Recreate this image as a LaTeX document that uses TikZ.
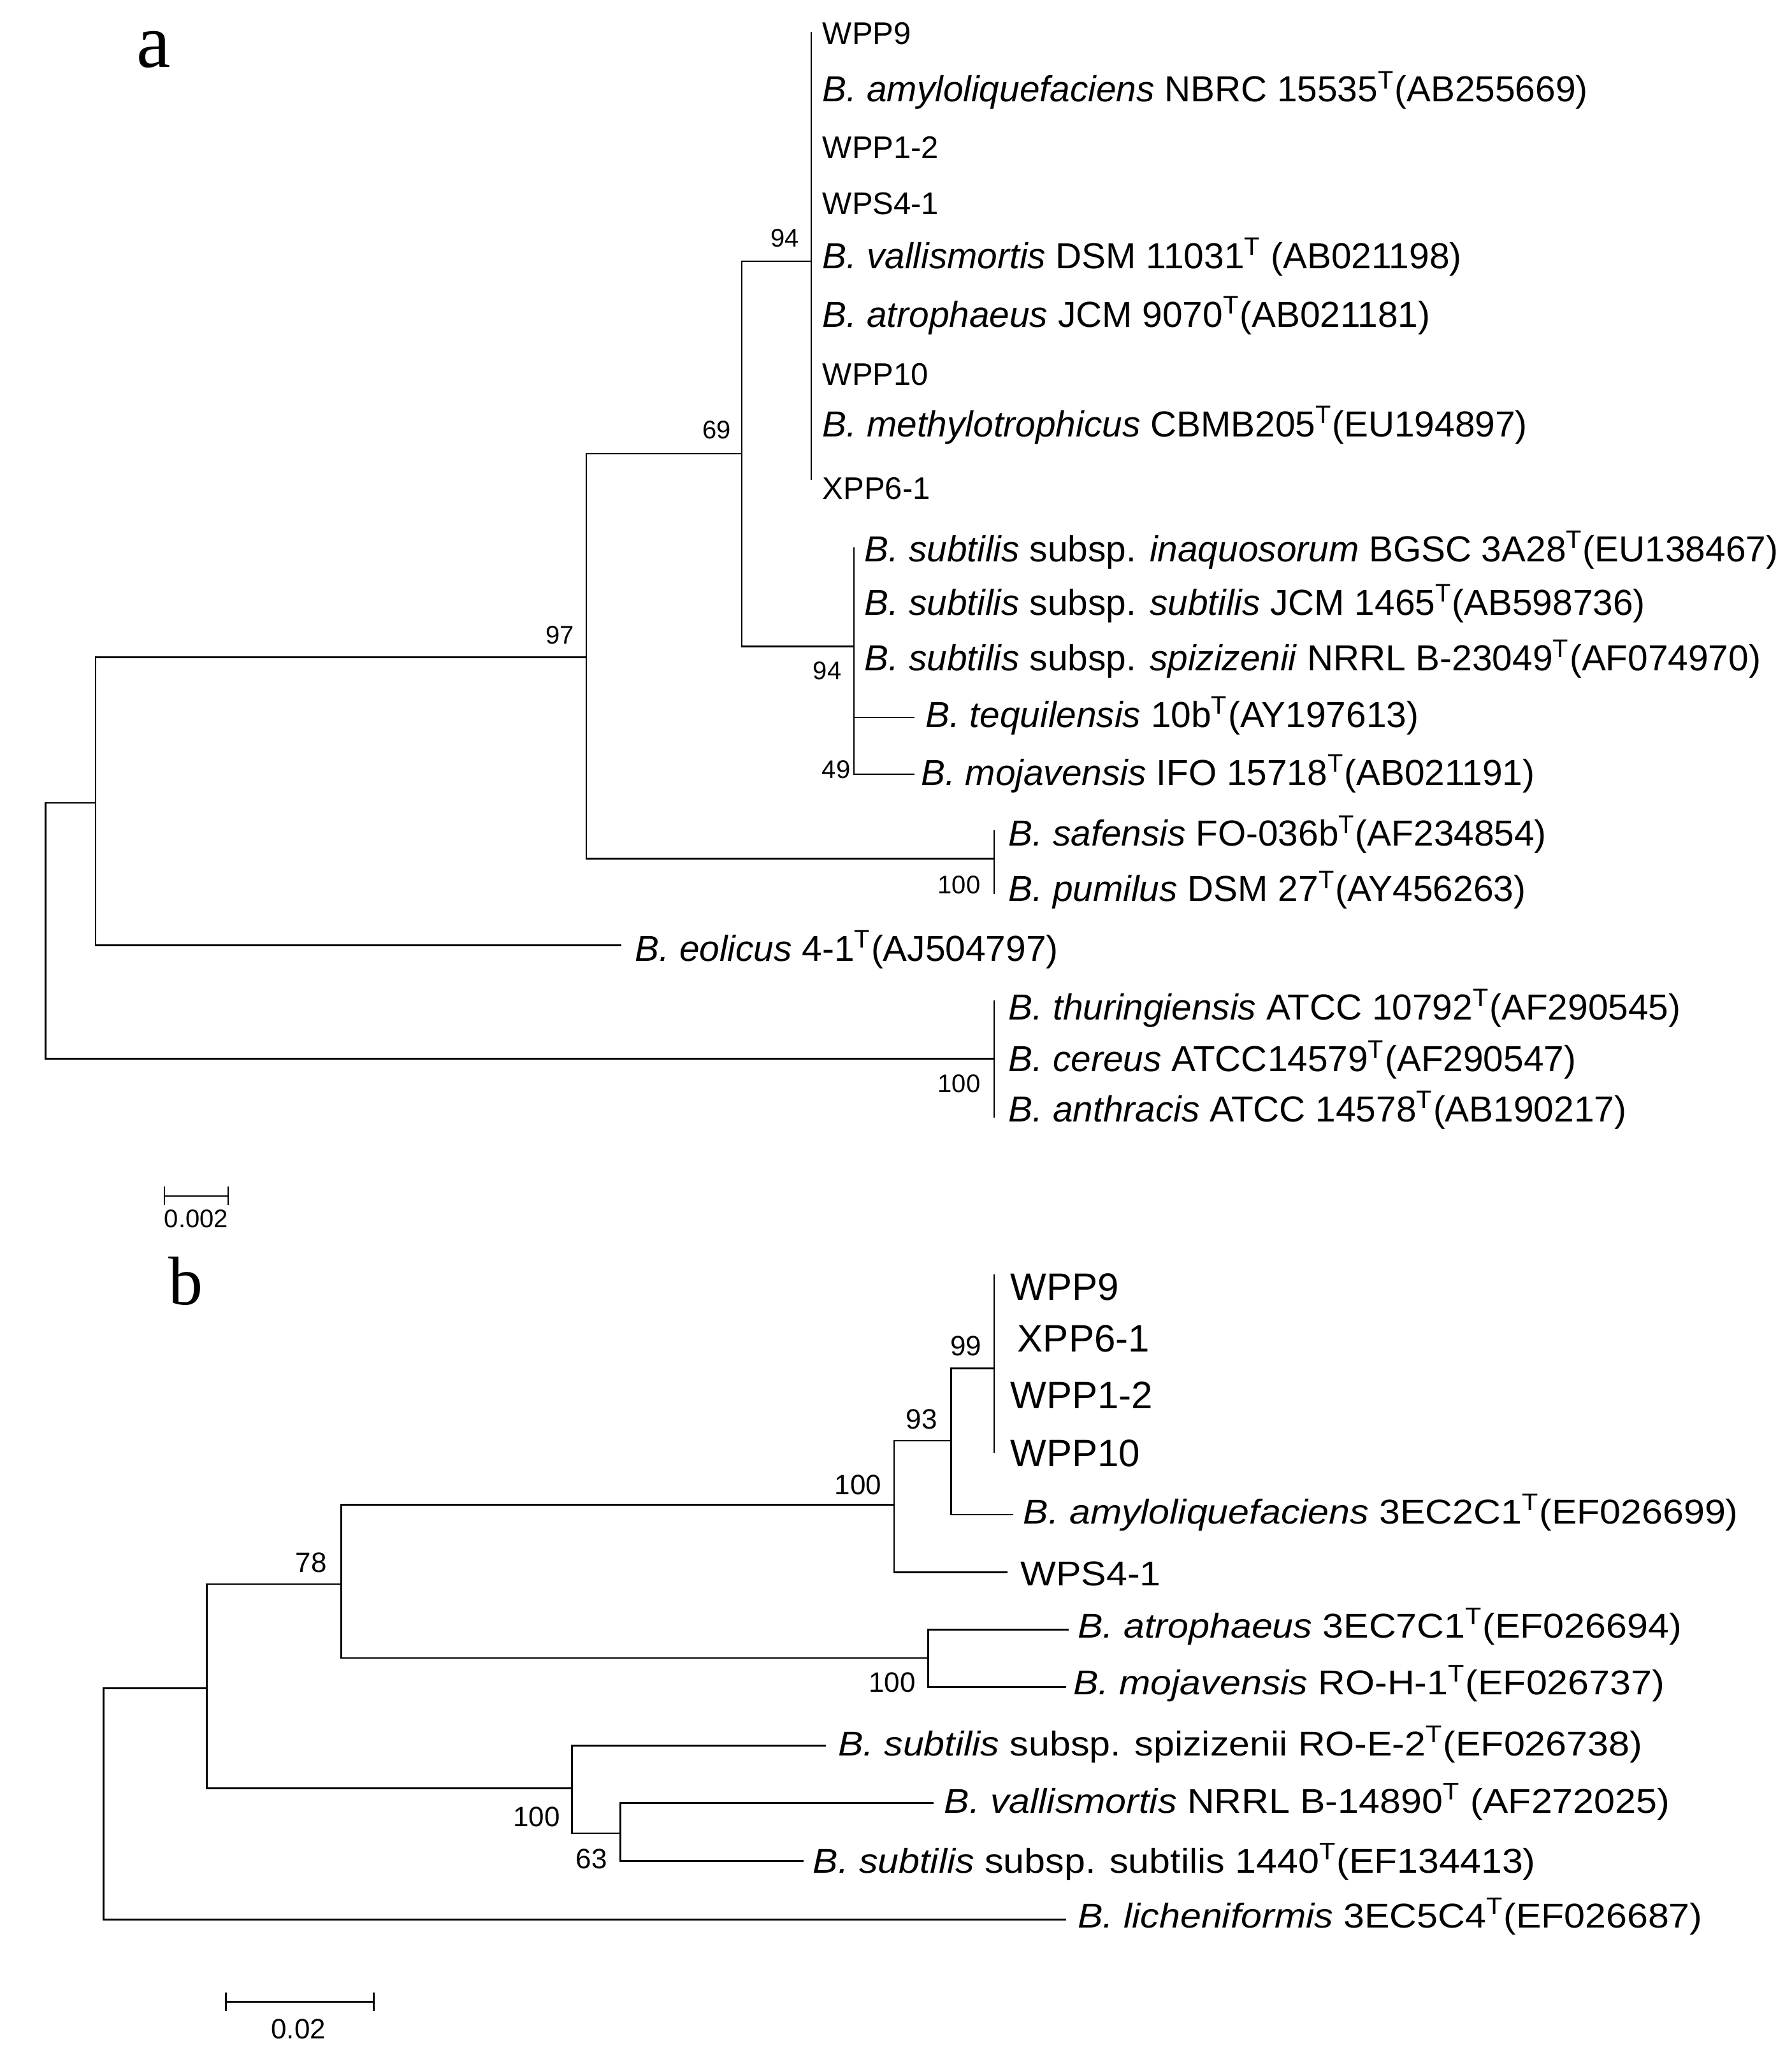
\documentclass[tikz,border=0pt]{standalone}
\usepackage{fontspec}
\setmainfont{Liberation Sans}
\newfontfamily\serifa{Liberation Serif}
\newfontfamily\wideb[FakeStretch=1.095]{Liberation Sans}
\begin{document}
\begin{tikzpicture}[x=0.51788pt,y=-0.51788pt,
  br/.style={line width=0.6pt,line cap=rect},
  brb/.style={line width=0.7pt,line cap=rect},
  la/.style={anchor=base west,inner sep=0pt,font=\fontsize{14.2}{17}\selectfont},
  lwa/.style={anchor=base west,inner sep=0pt,font=\fontsize{12.25}{14}\selectfont},
  bsa/.style={anchor=base east,inner sep=0pt,font=\fontsize{10}{12}\selectfont},
  lb/.style={anchor=base west,inner sep=0pt,font=\wideb\fontsize{13.5}{16}\selectfont},
  lwb/.style={anchor=base west,inner sep=0pt,font=\fontsize{15}{18}\selectfont},
  bsb/.style={anchor=base east,inner sep=0pt,font=\fontsize{11}{13}\selectfont},
  panel/.style={anchor=base,inner sep=0pt}]
\useasboundingbox[fill=white] (0,0) rectangle (1357,1567.4);

% ---------------- panel a ----------------
\node[panel,font=\serifa\fontsize{30}{34}\selectfont] (pa) at (116.3,50.7) {a};

% leaf labels
\node[lwa] (aWPP9) at (622.7,33.4) {WPP9};
\node[la]  (aAmy)  at (622.7,77.2) {\textit{B. amyloliquefaciens} NBRC 15535\textsuperscript{T}(AB255669)};
\node[lwa] (aWPP12) at (622.7,119.8) {WPP1-2};
\node[lwa] (aWPS41) at (622.7,162.5) {WPS4-1};
\node[la]  (aVal)  at (622.7,203.6) {\textit{B. vallismortis} DSM 11031\textsuperscript{T} (AB021198)};
\node[la]  (aAtr)  at (622.7,247.7) {\textit{B. atrophaeus} JCM 9070\textsuperscript{T}(AB021181)};
\node[lwa] (aWPP10) at (622.7,291.7) {WPP10};
\node[la]  (aMet)  at (622.7,331) {\textit{B. methylotrophicus} CBMB205\textsuperscript{T}(EU194897)};
\node[lwa] (aXPP) at (622.7,378) {XPP6-1};
\node[la]  (aInq)  at (654.6,425.5) {\textit{B. subtilis} subsp. \textit{inaquosorum} BGSC 3A28\textsuperscript{T}(EU138467)};
\node[la]  (aSub)  at (654.6,466) {\textit{B. subtilis} subsp. \textit{subtilis} JCM 1465\textsuperscript{T}(AB598736)};
\node[la]  (aSpi)  at (654.6,508) {\textit{B. subtilis} subsp. \textit{spizizenii} NRRL B-23049\textsuperscript{T}(AF074970)};
\node[la]  (aTeq)  at (700.8,551) {\textit{B. tequilensis} 10b\textsuperscript{T}(AY197613)};
\node[la]  (aMoj)  at (697.3,595) {\textit{B. mojavensis} IFO 15718\textsuperscript{T}(AB021191)};
\node[la]  (aSaf)  at (763.7,641) {\textit{B. safensis} FO-036b\textsuperscript{T}(AF234854)};
\node[la]  (aPum)  at (763.7,683) {\textit{B. pumilus} DSM 27\textsuperscript{T}(AY456263)};
\node[la]  (aEol)  at (480.7,728) {\textit{B. eolicus} 4-1\textsuperscript{T}(AJ504797)};
\node[la]  (aThu)  at (763.7,772.5) {\textit{B. thuringiensis} ATCC 10792\textsuperscript{T}(AF290545)};
\node[la]  (aCer)  at (763.7,811.5) {\textit{B. cereus} ATCC14579\textsuperscript{T}(AF290547)};
\node[la]  (aAnt)  at (763.7,850) {\textit{B. anthracis} ATCC 14578\textsuperscript{T}(AB190217)};

% internal nodes and tips
\coordinate (aRoot) at (34.5,700);
\coordinate (a73) at (72.4,608.3);
\coordinate (a97) at (444,498);
\coordinate (a69) at (562,343.6);
\coordinate (a94t) at (614.4,198);
\coordinate (a94tTop) at (614.4,24.6);
\coordinate (a94tBot) at (614.4,363);
\coordinate (a94b) at (646.9,489.8);
\coordinate (a94bTop) at (646.9,415);
\coordinate (a49) at (646.9,565);
\coordinate (aTeqT) at (692.3,543.6);
\coordinate (aMojT) at (692.3,586.5);
\coordinate (aSafN) at (752.9,650.5);
\coordinate (aSafT) at (752.9,629.6);
\coordinate (aPumT) at (752.9,676.8);
\coordinate (aEolT) at (470,716.2);
\coordinate (aCerN) at (752.9,802);
\coordinate (aThuT) at (752.9,758.3);
\coordinate (aAntT) at (752.9,846);

\draw[br] (aRoot) |- (a73);
\draw[br] (aRoot) |- (aCerN);
\draw[br] (a73) |- (a97);
\draw[br] (a73) |- (aEolT);
\draw[br] (a97) |- (a69);
\draw[br] (a97) |- (aSafN);
\draw[br] (a69) |- (a94t);
\draw[br] (a69) |- (a94b);
\draw[br] (a94tTop) -- (a94tBot);
\draw[br] (a94bTop) -- (a49);
\draw[br] (a49) |- (aTeqT);
\draw[br] (a49) |- (aMojT);
\draw[br] (aSafT) -- (aPumT);
\draw[br] (aThuT) -- (aAntT);

% bootstrap values
\node[bsa] (ba94t) at (605.6,187.2) {94};
\node[bsa] (ba69) at (554,332.4) {69};
\node[bsa] (ba97) at (435.4,488) {97};
\node[bsa] (ba94b) at (637.7,515) {94};
\node[bsa] (ba49) at (644.5,589.7) {49};
\node[bsa] (ba100s) at (743,676.8) {100};
\node[bsa] (ba100c) at (743,827.5) {100};

% scale bar a
\coordinate (sa1) at (124.6,906);
\coordinate (sa2) at (172.8,906);
\draw[br,line cap=butt] (sa1) -- (sa2);
\draw[br,line cap=butt] ([yshift=3.6pt]sa1) -- ([yshift=-3.6pt]sa1);
\draw[br,line cap=butt] ([yshift=3.6pt]sa2) -- ([yshift=-3.6pt]sa2);
\node[panel,font=\fontsize{10}{12}\selectfont] (saL) at (148.7,930.1) {0.002};

% ---------------- panel b ----------------
\node[panel,font=\serifa\fontsize{27}{31}\selectfont] (pb) at (140.7,988.2) {b};

\node[lwb] (bWPP9) at (765.1,984.8) {WPP9};
\node[lwb] (bXPP) at (770.5,1024.2) {XPP6-1};
\node[lwb] (bWPP12) at (765.1,1066.9) {WPP1-2};
\node[lwb] (bWPP10) at (765.1,1111.1) {WPP10};
\node[lb] (bAmy) at (774.8,1154.6) {\textit{B. amyloliquefaciens} 3EC2C1\textsuperscript{T}(EF026699)};
\node[lb] (bWPS) at (772.7,1201.3) {WPS4-1};
\node[lb] (bAtr) at (816,1240.6) {\textit{B. atrophaeus} 3EC7C1\textsuperscript{T}(EF026694)};
\node[lb] (bMoj) at (812.7,1284) {\textit{B. mojavensis} RO-H-1\textsuperscript{T}(EF026737)};
\node[lb] (bSpi) at (634.5,1329.9) {\textit{B. subtilis} subsp. spizizenii RO-E-2\textsuperscript{T}(EF026738)};
\node[lb] (bVal) at (715,1373.4) {\textit{B. vallismortis} NRRL B-14890\textsuperscript{T} (AF272025)};
\node[lb] (bSub) at (615.5,1419) {\textit{B. subtilis} subsp. subtilis 1440\textsuperscript{T}(EF134413)};
\node[lb] (bLic) at (816,1460.5) {\textit{B. licheniformis} 3EC5C4\textsuperscript{T}(EF026687)};

\coordinate (bRoot) at (78.4,1300);
\coordinate (b156) at (156.5,1278.8);
\coordinate (bLicT) at (806.7,1454.3);
\coordinate (b78) at (258.6,1200);
\coordinate (b433) at (433.2,1354.8);
\coordinate (b100a) at (677.3,1139.9);
\coordinate (b703) at (702.9,1256);
\coordinate (b93) at (720.6,1091.4);
\coordinate (bWPST) at (762.4,1191);
\coordinate (b99) at (753,1036.6);
\coordinate (b99Top) at (753,966);
\coordinate (b99Bot) at (753,1099.7);
\coordinate (bAmyT) at (767,1147.4);
\coordinate (bAtrT) at (809,1234.5);
\coordinate (bMojT) at (806.7,1278);
\coordinate (bSpiT) at (625,1322.4);
\coordinate (b470) at (469.9,1388.8);
\coordinate (bValT) at (706.6,1365.9);
\coordinate (bSubT) at (607.8,1409.9);

\draw[brb] (bRoot) |- (b156);
\draw[brb] (bRoot) |- (bLicT);
\draw[brb] (b156) |- (b78);
\draw[brb] (b156) |- (b433);
\draw[brb] (b78) |- (b100a);
\draw[brb] (b78) |- (b703);
\draw[brb] (b100a) |- (b93);
\draw[brb] (b100a) |- (bWPST);
\draw[brb] (b93) |- (b99);
\draw[brb] (b93) |- (bAmyT);
\draw[brb] (b99Top) -- (b99Bot);
\draw[brb] (b703) |- (bAtrT);
\draw[brb] (b703) |- (bMojT);
\draw[brb] (b433) |- (bSpiT);
\draw[brb] (b433) |- (b470);
\draw[brb] (b470) |- (bValT);
\draw[brb] (b470) |- (bSubT);

\node[bsb] (bb99) at (744,1027) {99};
\node[bsb] (bb93) at (710.3,1082.3) {93};
\node[bsb] (bb100a) at (668,1132) {100};
\node[bsb] (bb78) at (247.8,1191) {78};
\node[bsb] (bb100b) at (694,1282) {100};
\node[bsb] (bb100c) at (424.6,1383.7) {100};
\node[bsb] (bb63) at (460.3,1415.7) {63};

\coordinate (sb1) at (171.1,1516.5);
\coordinate (sb2) at (283.2,1516.5);
\draw[brb,line cap=butt] (sb1) -- (sb2);
\draw[brb,line cap=butt] ([yshift=3.6pt]sb1) -- ([yshift=-3.6pt]sb1);
\draw[brb,line cap=butt] ([yshift=3.6pt]sb2) -- ([yshift=-3.6pt]sb2);
\node[panel,font=\fontsize{11}{13}\selectfont] (sbL) at (226,1544.3) {0.02};
\end{tikzpicture}
\end{document}
